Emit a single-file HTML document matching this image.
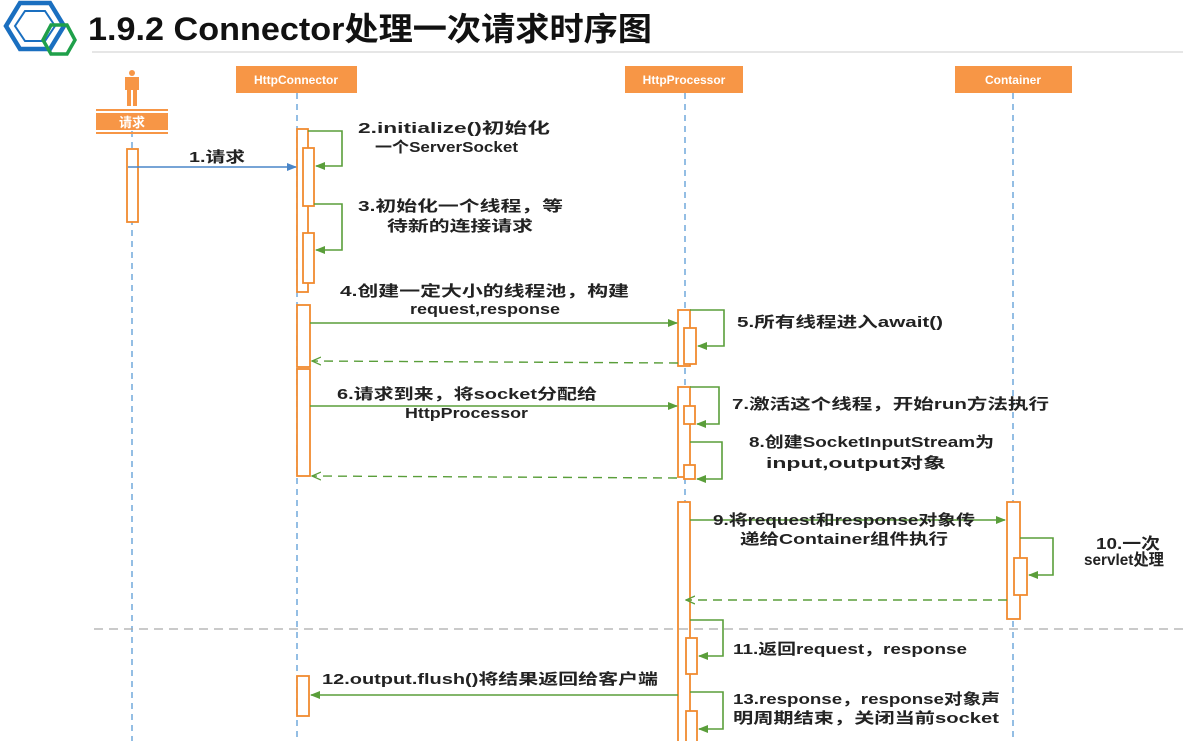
<!DOCTYPE html>
<html><head><meta charset="utf-8"><style>
body{margin:0;background:#fff;width:1183px;height:741px;overflow:hidden;font-family:"Liberation Sans","Noto Sans CJK SC",sans-serif}
svg{position:absolute;left:0;top:0}
text{font-family:"Liberation Sans","Noto Sans CJK SC",sans-serif;font-weight:bold;fill:#222;font-size:15px}
</style></head><body>
<svg width="1183" height="741" viewBox="0 0 1183 741">
<defs>
<marker id="g" markerWidth="10" markerHeight="10" refX="9" refY="5" orient="auto" markerUnits="userSpaceOnUse"><path d="M0,1 L10,5 L0,9z" fill="#5a9e3a"/></marker>
<marker id="b" markerWidth="10" markerHeight="10" refX="9" refY="5" orient="auto" markerUnits="userSpaceOnUse"><path d="M0,1 L10,5 L0,9z" fill="#4a86c8"/></marker>
<marker id="o" markerWidth="10" markerHeight="10" refX="9" refY="5" orient="auto" markerUnits="userSpaceOnUse"><path d="M0,1 L9,5 L0,9" fill="none" stroke="#5a9e3a" stroke-width="1.3"/></marker>
</defs>
<!-- logo -->
<polygon points="20,3 50,3 64,26 50,49 20,49 6,26" fill="none" stroke="#1a6fc0" stroke-width="4.5"/>
<polygon points="25,11 45,11 55,26 45,41 25,41 15,26" fill="none" stroke="#1a6fc0" stroke-width="2"/>
<polygon points="51,25 67,25 75,40 67,54 51,54 43,40" fill="none" stroke="#1fa04a" stroke-width="3.5"/>
<text x="88" y="40" textLength="564" lengthAdjust="spacingAndGlyphs" style="font-size:32px;fill:#111">1.9.2 Connector处理一次请求时序图</text>
<line x1="92" y1="52" x2="1183" y2="52" stroke="#ddd" stroke-width="1.5"/>
<!-- lifelines -->
<g stroke="#5b9bd5" stroke-width="1.3" stroke-dasharray="6,5">
<line x1="132" y1="131" x2="132" y2="741"/><line x1="297" y1="93" x2="297" y2="741"/>
<line x1="685" y1="93" x2="685" y2="741"/><line x1="1013" y1="93" x2="1013" y2="741"/>
</g>
<!-- headers -->
<g fill="#f79646">
<rect x="236" y="66" width="121" height="27"/><rect x="625" y="66" width="118" height="27"/><rect x="955" y="66" width="117" height="27"/>
<rect x="96" y="113" width="72" height="17"/><rect x="96" y="109" width="72" height="2"/><rect x="96" y="132" width="72" height="2"/>
<circle cx="132" cy="73" r="3"/><rect x="125" y="77" width="14" height="13"/><rect x="127" y="90" width="4" height="16"/><rect x="133" y="90" width="4" height="16"/>
</g>
<g text-anchor="middle">
<text x="296" y="84" style="fill:#fff;font-size:12px">HttpConnector</text>
<text x="684" y="84" style="fill:#fff;font-size:12px">HttpProcessor</text>
<text x="1013" y="84" style="fill:#fff;font-size:12px">Container</text>
<text x="132" y="127" style="fill:#fff;font-size:13px">请求</text>
</g>
<!-- activations -->
<g fill="#fff" stroke="#f08a30" stroke-width="1.8">
<rect x="127" y="149" width="11" height="73"/>
<rect x="297" y="129" width="11" height="163"/>
<rect x="303" y="148" width="11" height="58"/><rect x="303" y="233" width="11" height="50"/>
<rect x="297" y="305" width="13" height="62"/><rect x="297" y="369" width="13" height="107"/>
<rect x="297" y="676" width="12" height="40"/>
<rect x="678" y="310" width="12" height="56"/><rect x="684" y="328" width="12" height="36"/>
<rect x="678" y="387" width="12" height="90"/><rect x="684" y="406" width="11" height="18"/><rect x="684" y="465" width="11" height="14"/>
<rect x="678" y="502" width="12" height="250"/>
<rect x="686" y="638" width="11" height="36"/><rect x="686" y="711" width="11" height="40"/>
<rect x="1007" y="502" width="13" height="117"/><rect x="1014" y="558" width="13" height="37"/>
</g>
<!-- messages -->
<line x1="128" y1="167" x2="296" y2="167" stroke="#4a86c8" stroke-width="1.5" marker-end="url(#b)"/>
<g fill="none" stroke="#5a9e3a" stroke-width="1.6">
<polyline points="308,131 342,131 342,166 316,166" marker-end="url(#g)"/>
<polyline points="314,204 342,204 342,250 316,250" marker-end="url(#g)"/>
<line x1="310" y1="323" x2="677" y2="323" marker-end="url(#g)"/>
<polyline points="690,310 724,310 724,346 698,346" marker-end="url(#g)"/>
<line x1="310" y1="406" x2="677" y2="406" marker-end="url(#g)"/>
<polyline points="690,387 719,387 719,424 697,424" marker-end="url(#g)"/>
<polyline points="690,442 722,442 722,479 697,479" marker-end="url(#g)"/>
<line x1="690" y1="520" x2="1005" y2="520" marker-end="url(#g)"/>
<polyline points="1020,538 1053,538 1053,575 1029,575" marker-end="url(#g)"/>
<polyline points="690,620 723,620 723,656 699,656" marker-end="url(#g)"/>
<line x1="678" y1="695" x2="311" y2="695" marker-end="url(#g)"/>
<polyline points="690,692 723,692 723,729 699,729" marker-end="url(#g)"/>
<g stroke-dasharray="9,6" stroke-width="1.4">
<line x1="678" y1="363" x2="312" y2="361" marker-end="url(#o)"/>
<line x1="677" y1="478" x2="312" y2="476" marker-end="url(#o)"/>
<line x1="1007" y1="600" x2="686" y2="600" marker-end="url(#o)"/>
</g>
</g>
<line x1="94" y1="629" x2="1183" y2="629" stroke="#aaa" stroke-width="1.3" stroke-dasharray="9,6"/>
<!-- labels -->
<g lengthAdjust="spacingAndGlyphs">
<text x="189" y="162" textLength="56" lengthAdjust="spacingAndGlyphs">1.请求</text>
<text x="358" y="133" textLength="192" lengthAdjust="spacingAndGlyphs">2.initialize()初始化</text>
<text x="375" y="152" textLength="143" lengthAdjust="spacingAndGlyphs">一个ServerSocket</text>
<text x="358" y="211" textLength="205" lengthAdjust="spacingAndGlyphs">3.初始化一个线程，等</text>
<text x="387" y="231" textLength="146" lengthAdjust="spacingAndGlyphs">待新的连接请求</text>
<text x="340" y="296" textLength="289" lengthAdjust="spacingAndGlyphs">4.创建一定大小的线程池，构建</text>
<text x="410" y="314" textLength="150" lengthAdjust="spacingAndGlyphs">request,response</text>
<text x="737" y="327" textLength="206" lengthAdjust="spacingAndGlyphs">5.所有线程进入await()</text>
<text x="337" y="399" textLength="260" lengthAdjust="spacingAndGlyphs">6.请求到来，将socket分配给</text>
<text x="405" y="418" textLength="123" lengthAdjust="spacingAndGlyphs">HttpProcessor</text>
<text x="732" y="409" textLength="317" lengthAdjust="spacingAndGlyphs">7.激活这个线程，开始run方法执行</text>
<text x="749" y="447" textLength="245" lengthAdjust="spacingAndGlyphs">8.创建SocketInputStream为</text>
<text x="766" y="468" textLength="180" lengthAdjust="spacingAndGlyphs">input,output对象</text>
<text x="713" y="525" textLength="262" lengthAdjust="spacingAndGlyphs">9.将request和response对象传</text>
<text x="740" y="544" textLength="208" lengthAdjust="spacingAndGlyphs">递给Container组件执行</text>
<text x="1096" y="549" textLength="64" lengthAdjust="spacingAndGlyphs" style="font-size:16px">10.一次</text>
<text x="1084" y="565" textLength="80" lengthAdjust="spacingAndGlyphs" style="font-size:16px">servlet处理</text>
<text x="733" y="654" textLength="234" lengthAdjust="spacingAndGlyphs">11.返回request，response</text>
<text x="322" y="684" textLength="336" lengthAdjust="spacingAndGlyphs">12.output.flush()将结果返回给客户端</text>
<text x="733" y="704" textLength="267" lengthAdjust="spacingAndGlyphs">13.response，response对象声</text>
<text x="733" y="723" textLength="266" lengthAdjust="spacingAndGlyphs">明周期结束，关闭当前socket</text>
</g>
</svg>
</body></html>
